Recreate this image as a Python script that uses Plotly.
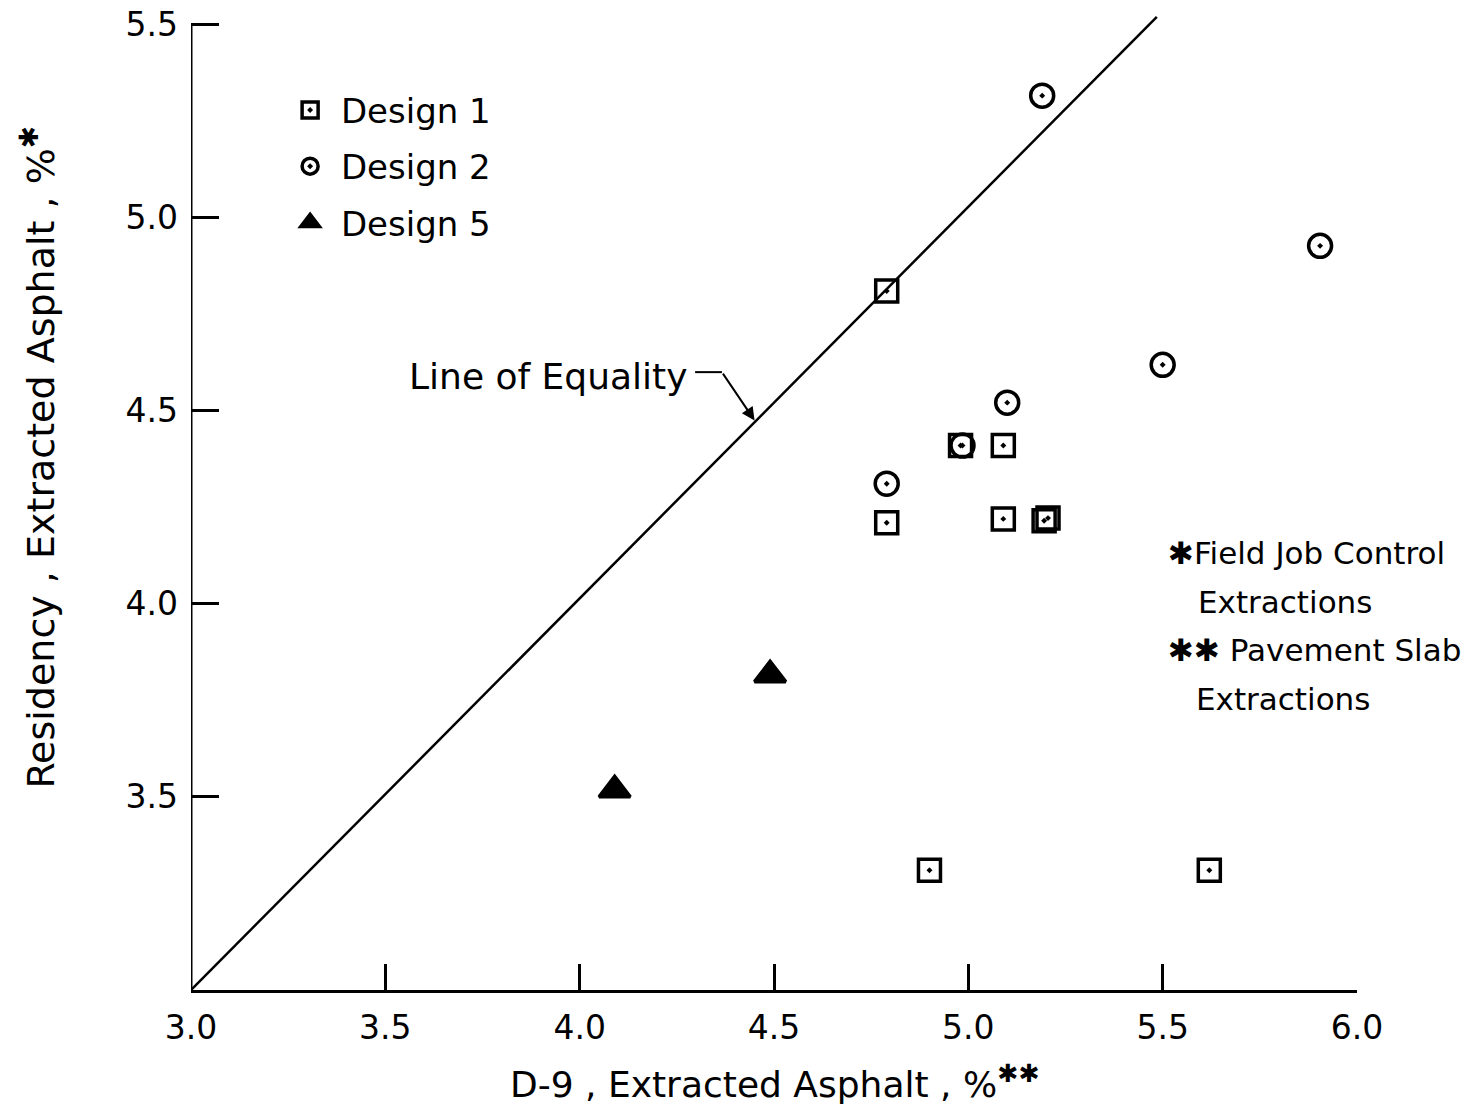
import plotly.graph_objects as go

# ---- data ----
design1_x = [4.79, 4.79, 5.09, 5.09, 5.195, 5.205, 4.98, 4.90, 5.62]
design1_y = [4.81, 4.21, 4.41, 4.22, 4.215, 4.222, 4.41, 3.31, 3.31]

design2_x = [5.19, 5.905, 5.50, 5.10, 4.79, 4.985]
design2_y = [5.316, 4.927, 4.619, 4.521, 4.311, 4.41]

design5_x = [4.49, 4.09]
design5_y = [3.816, 3.518]

equality_x = [3.0, 5.485]
equality_y = [3.0, 5.52]

x_ticks = [3.0, 3.5, 4.0, 4.5, 5.0, 5.5, 6.0]
x_tick_labels = ["3.0", "3.5", "4.0", "4.5", "5.0", "5.5", "6.0"]
y_ticks = [3.5, 4.0, 4.5, 5.0, 5.5]
y_tick_labels = ["3.5", "4.0", "4.5", "5.0", "5.5"]

FONT = "DejaVu Sans"
BLACK = "black"
NB = "\u00a0"

fig = go.Figure()

fig.add_trace(go.Scatter(
    x=equality_x, y=equality_y, mode="lines",
    line=dict(color=BLACK, width=2.5), showlegend=False, hoverinfo="skip"))

fig.add_trace(go.Scatter(
    x=design2_x, y=design2_y, mode="markers", name=NB + "Design 2",
    legendgroup="g2", legendrank=2,
    marker=dict(symbol="circle-open-dot", size=23, color=BLACK,
                line=dict(width=3.5, color=BLACK))))

fig.add_trace(go.Scatter(
    x=design1_x, y=design1_y, mode="markers", name=NB + "Design 1",
    legendgroup="g1", legendrank=1,
    marker=dict(symbol="square-open-dot", size=22, color=BLACK,
                line=dict(width=3.5, color=BLACK))))

fig.add_trace(go.Scatter(
    x=design5_x, y=design5_y, mode="markers", name=NB + "Design 5",
    legendgroup="g5", legendrank=3,
    marker=dict(symbol="triangle-up", size=27, color=BLACK,
                line=dict(width=3.5, color=BLACK))))

# y-axis line (stops at 5.5 like the original)
fig.add_shape(type="line", xref="x", yref="y", x0=3.0, x1=3.0, y0=3.0, y1=5.5,
              line=dict(color=BLACK, width=3))

# Line of Equality label with leader
fig.add_annotation(x=4.285, y=4.59, xref="x", yref="y", text="Line of Equality",
                   showarrow=False, xanchor="right", yanchor="middle",
                   font=dict(family=FONT, size=36, color=BLACK))
fig.add_shape(type="line", xref="x", yref="y", x0=4.297, x1=4.366, y0=4.60, y1=4.60,
              line=dict(color=BLACK, width=2))
fig.add_annotation(x=4.45, y=4.475, ax=4.366, ay=4.60, xref="x", yref="y",
                   axref="x", ayref="y", text="", showarrow=True,
                   arrowhead=2, arrowsize=1.3, arrowwidth=2, arrowcolor=BLACK)

# Footnotes
notes = [("✱Field Job Control", 5.508, 4.132),
         ("Extractions", 5.585, 4.005),
         ("✱✱ Pavement Slab", 5.508, 3.881),
         ("Extractions", 5.58, 3.754)]
for txt, nx, ny in notes:
    fig.add_annotation(x=nx, y=ny, xref="x", yref="y", text=txt, showarrow=False,
                       xanchor="left", yanchor="middle",
                       font=dict(family=FONT, size=31, color=BLACK))

# Axis titles
fig.add_annotation(x=0.5, y=-0.094, xref="paper", yref="paper",
                   text="D-9 , Extracted Asphalt , %<sup>✱✱</sup>", showarrow=False,
                   xanchor="center", yanchor="middle",
                   font=dict(family=FONT, size=36, color=BLACK))
fig.add_annotation(x=-0.132, y=0.545, xref="paper", yref="paper",
                   text="Residency , Extracted Asphalt , %<sup>✱</sup>", showarrow=False,
                   textangle=-90, xanchor="center", yanchor="middle",
                   font=dict(family=FONT, size=38, color=BLACK))

fig.update_layout(
    width=1482, height=1110,
    margin=dict(l=183, r=133, t=5, b=128, autoexpand=False),
    paper_bgcolor="white", plot_bgcolor="white",
    showlegend=True,
    legend=dict(x=0.085, y=0.930, xanchor="left", yanchor="top",
                font=dict(family=FONT, size=34, color=BLACK),
                tracegroupgap=9, bgcolor="rgba(0,0,0,0)", itemsizing="trace"),
    font=dict(family=FONT, color=BLACK),
)
fig.update_xaxes(range=[3.0, 6.0], tickvals=x_ticks, ticktext=x_tick_labels,
                 ticks="inside", ticklen=26, tickwidth=2.5, tickcolor=BLACK,
                 showline=True, linecolor=BLACK, linewidth=3, showgrid=False,
                 zeroline=False, ticklabelstandoff=6, automargin=False,
                 ticklabeloverflow="allow",
                 tickfont=dict(family=FONT, size=33, color=BLACK))
fig.update_yaxes(range=[3.0, 5.53], tickvals=y_ticks, ticktext=y_tick_labels,
                 ticks="inside", ticklen=28, tickwidth=2.5, tickcolor=BLACK,
                 showline=False, showgrid=False, zeroline=False,
                 ticklabelstandoff=12, automargin=False,
                 ticklabeloverflow="allow",
                 tickfont=dict(family=FONT, size=33, color=BLACK))

fig.write_html("out.html")
